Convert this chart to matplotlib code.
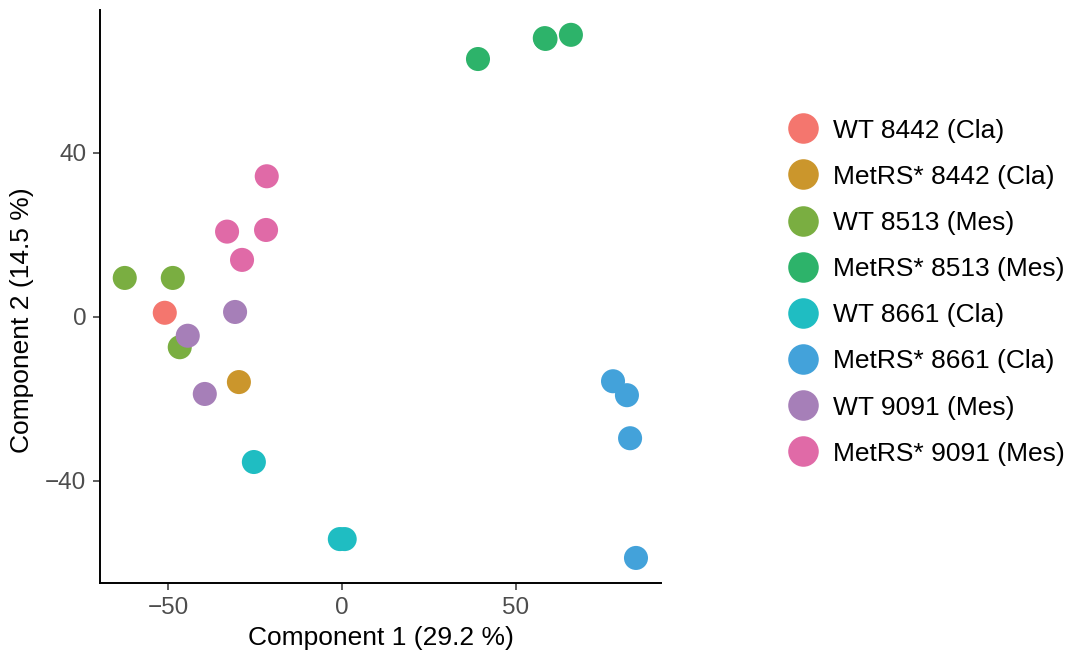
import matplotlib
matplotlib.use("Agg")
import matplotlib.pyplot as plt
from matplotlib.lines import Line2D

plt.rcParams['font.family'] = ['Liberation Sans', 'DejaVu Sans']

groups = ["WT 8442 (Cla)", "MetRS* 8442 (Cla)", "WT 8513 (Mes)", "MetRS* 8513 (Mes)",
          "WT 8661 (Cla)", "MetRS* 8661 (Cla)", "WT 9091 (Mes)", "MetRS* 9091 (Mes)"]
colors = ["#F4766E", "#CB962C", "#7AAE41", "#2DB36A",
          "#1FBDC2", "#43A2DA", "#A67FB8", "#E06AA7"]

# PCA scores
comp1 = {
    "WT 8442 (Cla)": [-50.9],
    "MetRS* 8442 (Cla)": [-29.6],
    "WT 8513 (Mes)": [-62.4, -48.6, -46.6],
    "MetRS* 8513 (Mes)": [39.1, 58.3, 58.5, 65.8],
    "WT 8661 (Cla)": [-25.3, -0.6, 0.8],
    "MetRS* 8661 (Cla)": [77.9, 81.9, 82.8, 84.5],
    "WT 9091 (Mes)": [-30.7, -44.3, -39.4],
    "MetRS* 9091 (Mes)": [-21.6, -33.0, -21.8, -28.7],
}
comp2 = {
    "WT 8442 (Cla)": [1.0],
    "MetRS* 8442 (Cla)": [-15.9],
    "WT 8513 (Mes)": [9.5, 9.5, -7.4],
    "MetRS* 8513 (Mes)": [62.9, 68.0, 67.8, 68.8],
    "WT 8661 (Cla)": [-35.4, -54.2, -54.2],
    "MetRS* 8661 (Cla)": [-15.7, -19.1, -29.6, -58.8],
    "WT 9091 (Mes)": [1.2, -4.6, -18.8],
    "MetRS* 9091 (Mes)": [34.3, 20.8, 21.2, 13.9],
}

fig = plt.figure(figsize=(10.7, 6.55), dpi=100)
ax = fig.add_axes([0.0935, 0.110, 0.5243, 0.875])

for g, c in zip(groups, colors):
    ax.scatter(comp1[g], comp2[g], s=300, color=c, edgecolors='none', zorder=3)

ax.set_xlim(-69.5, 91.7)
ax.set_ylim(-64.9, 74.9)
ax.set_xticks([-50, 0, 50])
ax.set_yticks([-40, 0, 40])
ax.set_xticklabels(["\u221250", "0", "50"])
ax.set_yticklabels(["\u221240", "0", "40"])
for side in ["top", "right"]:
    ax.spines[side].set_visible(False)
for side in ["left", "bottom"]:
    ax.spines[side].set_linewidth(1.4)
    ax.spines[side].set_color("black")
ax.tick_params(axis='both', length=5, width=1.1, color="#333333",
               labelsize=17.5, labelcolor="#4D4D4D", pad=5)
ax.set_xlabel("Component 1 (29.2 %)", fontsize=19, color="black", labelpad=5)
ax.set_ylabel("Component 2 (14.5 %)", fontsize=19, color="black")
ax.yaxis.set_label_coords(-0.118, 0.459)

handles = [Line2D([0], [0], marker='o', linestyle='none', markersize=22,
                  markerfacecolor=c, markeredgecolor='none') for c in colors]
fig.legend(handles, groups, loc='center left', bbox_to_anchor=(0.7196, 0.554),
           frameon=False, fontsize=19, handletextpad=0.38, labelspacing=0.84,
           borderpad=0, handlelength=1.5)

fig.savefig("out.png", dpi=100)
